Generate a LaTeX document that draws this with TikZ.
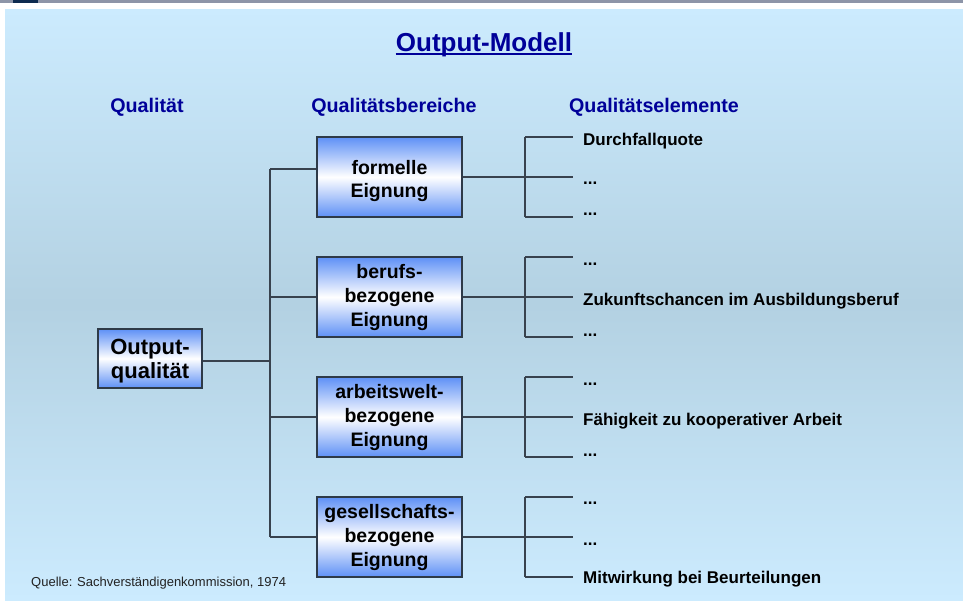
\documentclass[tikz,border=0pt]{standalone}
\usepackage{fontspec}
\setmainfont{Liberation Sans}
\usetikzlibrary{calc}
\definecolor{bgtop}{HTML}{CCEBFE}
\definecolor{bgmid}{HTML}{B3D1E2}
\definecolor{bargray}{HTML}{8D95A8}
\definecolor{navy}{HTML}{0D2A4F}
\definecolor{linecol}{HTML}{38424E}
\definecolor{boxborder}{HTML}{2E3A48}
\definecolor{boxblue}{HTML}{5E90F6}
\definecolor{headblue}{HTML}{000099}
\definecolor{quelle}{HTML}{222222}
\begin{document}
\begin{tikzpicture}[x=1pt,y=-1pt,
  conn/.style={draw=linecol, line width=1.3pt},
  qbox/.style={draw=boxborder, line width=1.3pt, top color=boxblue, bottom color=boxblue, middle color=white, minimum width=145pt, minimum height=80pt, align=center, inner sep=0pt, font=\fontsize{19.5}{24}\selectfont\bfseries},
  boxtext/.style={align=center, inner sep=0pt, font=\fontsize{19.5}{23}\selectfont\bfseries},
  head/.style={text=headblue, font=\fontsize{19.7}{24}\selectfont\bfseries, anchor=base, inner sep=0pt},
  elem/.style={anchor=base west, inner xsep=10pt, inner ysep=0pt, font=\fontsize{17}{20}\selectfont\bfseries}
]
\useasboundingbox (0,0) rectangle (963,600);
\fill[white] (0,0) rectangle (963,600);
\fill[bargray] (0,0) rectangle (963,2.5);
\fill[navy] (13,0) rectangle (38,3);
\shade[top color=bgtop, bottom color=bgtop, middle color=bgmid] (5,9) rectangle (963,600);

% title
\node[text=headblue, font=\fontsize{26}{30}\selectfont\bfseries, anchor=base, inner sep=0pt] (title) at (484,51) {Output-Modell};
\draw[headblue, line width=2pt] ([yshift=-3pt]title.base west) -- ([yshift=-3pt]title.base east);

% headers
\node[head] (hq) at (147,112) {Qualität};
\node[head] (hb) at (394,112) {Qualitätsbereiche};
\node[head] (he) at (654,112) {Qualitätselemente};

% boxes
\node[qbox, minimum width=104pt, minimum height=59pt] (out) at (150,358.5) {};
\node[boxtext, font=\fontsize{22}{24}\selectfont\bfseries] (outt) at ($(out.center)+(0,3)$) {Output-\\qualität};
\node[qbox] (b1) at (389.5,177) {};
\node[boxtext] (b1t) at ($(b1.center)+(0,4)$) {formelle\\Eignung};
\node[qbox] (b2) at (389.5,297) {berufs-\\bezogene\\Eignung};
\node[qbox] (b3) at (389.5,417) {arbeitswelt-\\bezogene\\Eignung};
\node[qbox] (b4) at (389.5,537) {gesellschafts-\\bezogene\\Eignung};

% trunk
\coordinate (trm) at (270,361);
\coordinate (tr1) at (270,169);
\coordinate (tr2) at (270,297);
\coordinate (tr3) at (270,417);
\coordinate (tr4) at (270,537);
\draw[conn] (out.east |- trm) -- (trm);
\draw[conn] (tr1) -- (tr4);
\draw[conn] (tr1) -- (tr1 -| b1.west);
\draw[conn] (tr2) -- (tr2 -| b2.west);
\draw[conn] (tr3) -- (tr3 -| b3.west);
\draw[conn] (tr4) -- (tr4 -| b4.west);

% elements
\node[elem] (e11) at (573,145) {Durchfallquote};
\node[elem] (e12) at (573,184) {...};
\node[elem] (e13) at (573,215) {...};
\node[elem] (e21) at (573,265) {...};
\node[elem] (e22) at (573,305) {Zukunftschancen im Ausbildungsberuf};
\node[elem] (e23) at (573,336) {...};
\node[elem] (e31) at (573,385) {...};
\node[elem] (e32) at (573,425) {Fähigkeit zu kooperativer Arbeit};
\node[elem] (e33) at (573,456) {...};
\node[elem] (e41) at (573,504) {...};
\node[elem] (e42) at (573,545) {...};
\node[elem] (e43) at (573,583) {Mitwirkung bei Beurteilungen};

% right brackets
\foreach \i/\yc in {1/177,2/297,3/417,4/537}{
  \coordinate (r\i a) at (525,\yc-40);
  \coordinate (r\i m) at (525,\yc);
  \coordinate (r\i b) at (525,\yc+40);
  \draw[conn] (b\i.east) -- (r\i m);
  \draw[conn] (r\i a) -- (r\i b);
  \draw[conn] (r\i a) -- (r\i a -| e\i1.west);
  \draw[conn] (r\i m) -- (r\i m -| e\i2.west);
  \draw[conn] (r\i b) -- (r\i b -| e\i3.west);
}

% source
\node[anchor=base west, inner sep=0pt, text=quelle, font=\fontsize{13}{15}\selectfont] (src) at (31,586) {Quelle: Sachverständigenkommission, 1974};
\end{tikzpicture}
\end{document}
